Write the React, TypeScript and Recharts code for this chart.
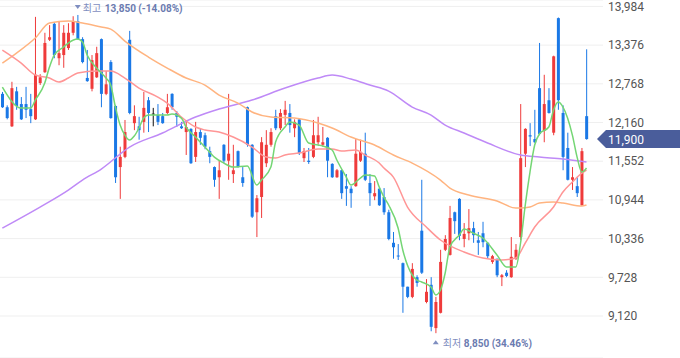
import React from 'react';
import {
  ComposedChart,
  Bar,
  Line,
  XAxis,
  YAxis,
  CartesianGrid,
  ReferenceLine,
  ReferenceDot,
} from 'recharts';

// ---- data ----
const opens = [
  12610, 12400, 12100, 12650, 12450, 12450, 12370, 12210, 12780, 12950,
  13460, 13710, 13170, 13220, 13330, 13570, 13750, 13470, 12860, 12690,
  12870, 13470, 12610, 13110, 12420, 11460, 11620, 13460, 12150, 12100,
  12170, 12510, 12300, 12280, 12260, 12310, 12610, 12310, 12100, 12010,
  12060, 11620, 12010, 11960, 11710, 11460, 11300, 11810, 11560, 11350,
  11710, 11300, 12400, 11810, 10750, 10990, 11520, 11810, 12260, 12070,
  12280, 12310, 12070, 12210, 11600, 11560, 11620, 11850, 11810, 11920,
  11510, 11300, 11410, 11160, 11120, 11160, 11560, 11670, 11210, 11000,
  11120, 10990, 10750, 10270, 10070, 9950, 9580, 9420, 9730, 10460,
  9340, 9610, 8930, 9170, 10160, 10080, 10750, 10960, 10330, 10420,
  10500, 10310, 10420, 10270, 9970, 10020, 9730, 9800, 9730, 10020,
  10360, 11670, 11960, 11900, 12700, 12030, 12510, 12000, 13800, 12310,
  11760, 11260, 11160, 10860, 12260,
];
const highs = [
  12640, 12430, 12800, 12720, 12560, 12720, 12610, 13820, 12920, 13570,
  13690, 13740, 13750, 13690, 13720, 13830, 13850, 13500, 13300, 13220,
  13350, 13480, 12970, 13140, 12430, 11780, 12200, 13600, 12430, 12250,
  12640, 12560, 12390, 12450, 12310, 12610, 12620, 12340, 12170, 12200,
  12070, 12170, 12070, 12000, 11780, 11470, 11560, 11820, 12610, 11810,
  11720, 11460, 12410, 11820, 11020, 11930, 12040, 12070, 12360, 12370,
  12500, 12450, 12210, 12230, 11760, 11760, 12200, 12250, 12090, 11930,
  11520, 11430, 11420, 11350, 11160, 11900, 11890, 12000, 11350, 11240,
  11130, 11130, 10790, 10440, 10250, 9960, 9580, 9950, 9760, 11260,
  9700, 9730, 9420, 10160, 10390, 10850, 10760, 10970, 10580, 10800,
  10600, 10440, 10600, 10280, 10080, 10020, 9780, 9840, 10360, 10250,
  12450, 12070, 12150, 12360, 13410, 12910, 12700, 13210, 13810, 12430,
  12000, 11460, 11300, 11760, 13310,
];
const lows = [
  12390, 12210, 12090, 12360, 12200, 12230, 12150, 12200, 12750, 12940,
  13440, 13170, 13060, 13020, 13300, 13530, 13460, 13090, 12800, 12650,
  12860, 12400, 12590, 12220, 11210, 10960, 11600, 12290, 12040, 11890,
  12000, 12010, 12100, 12120, 12140, 12290, 12360, 12090, 12060, 11650,
  11510, 11540, 11810, 11740, 11520, 11150, 10960, 11520, 11260, 11210,
  11450, 11150, 11780, 10660, 10360, 10660, 11460, 11780, 12040, 12040,
  12120, 12000, 11930, 11650, 11540, 11510, 11600, 11810, 11780, 11300,
  11290, 11290, 10960, 10850, 10820, 11150, 11540, 11240, 10850, 10940,
  10850, 10710, 10310, 10020, 10000, 9170, 9400, 9400, 9580, 9780,
  9320, 8880, 8850, 9160, 10140, 10070, 10410, 10310, 10200, 10310,
  10270, 10080, 10200, 10030, 9940, 9730, 9590, 9730, 9720, 10000,
  10310, 11460, 11790, 11840, 11960, 11850, 12300, 11960, 12360, 11410,
  11250, 11100, 10990, 10850, 11890,
];
const closes = [
  12400, 12230, 12700, 12420, 12210, 12360, 12260, 12910, 12870, 13410,
  13500, 13220, 13250, 13570, 13570, 13750, 13470, 13110, 12810, 13140,
  13250, 12610, 12760, 12230, 11300, 11620, 12010, 12310, 12260, 12040,
  12390, 12310, 12300, 12170, 12150, 12400, 12400, 12250, 12070, 12090,
  11520, 12010, 11920, 11780, 11620, 11260, 11410, 11560, 11670, 11410,
  11460, 11210, 11810, 10680, 10970, 11850, 11810, 12010, 12070, 12310,
  12360, 12120, 12170, 11680, 11710, 11540, 11960, 11960, 11850, 11560,
  11300, 11410, 11050, 11120, 11050, 11670, 11700, 11260, 11050, 11050,
  10860, 10750, 10330, 10200, 10060, 9580, 9420, 9860, 9640, 9800,
  9500, 8950, 9340, 9970, 10330, 10660, 10610, 10380, 10410, 10500,
  10390, 10270, 10280, 10060, 10060, 9760, 9760, 9750, 10050, 10160,
  11600, 12060, 11940, 11850, 11980, 12450, 12310, 13200, 12510, 11620,
  11260, 11300, 11050, 11710, 11900,
];

// moving averages: [candle index, value]
const ma5Points: [number, number][] = [
  [0, 12717], [4, 12387], [6, 12387], [7, 12513], [9, 12780], [10, 13031], [11, 13220],
  [13, 13346], [14, 13409], [16, 13471], [17, 13424], [18, 13220], [20, 13016], [22, 12859],
  [23, 12749], [24, 12403], [25, 12120], [26, 11963], [27, 11885], [28, 11947], [29, 12073],
  [30, 12230], [31, 12277], [33, 12277], [35, 12277], [36, 12293], [38, 12230], [39, 12089],
  [41, 11932], [43, 11775], [45, 11617], [47, 11523], [49, 11460], [52, 11476], [54, 11178],
  [55, 11256], [57, 11460], [58, 11853], [60, 12089], [61, 12167], [63, 12120], [65, 11838],
  [67, 11806], [68, 11790], [70, 11728], [71, 11571], [73, 11303], [74, 11178], [76, 11288],
  [77, 11335], [79, 11319], [80, 11146], [81, 10989], [82, 10864], [84, 10502], [85, 10157],
  [87, 9764], [88, 9685], [89, 9654], [91, 9575], [92, 9450], [93, 9528], [94, 9795],
  [95, 10204], [97, 10392], [98, 10486], [100, 10420], [102, 10345], [105, 10078], [107, 9890],
  [109, 9890], [110, 10267], [111, 10864], [112, 11382], [113, 11806], [114, 11979], [116, 12089],
  [117, 12356], [118, 12481], [119, 12403], [121, 11963], [122, 11617], [123, 11382], [124, 11445],
];
const ma20Points: [number, number][] = [
  [0, 13298], [4, 13094], [7, 12906], [10, 12859], [12, 12796], [14, 12859], [16, 12937],
  [20, 12969], [23, 12969], [26, 12859], [29, 12702], [33, 12560], [35, 12466], [38, 12246],
  [41, 12089], [43, 12042], [46, 12010], [49, 11932], [53, 11775], [56, 11617], [58, 11602],
  [60, 11649], [63, 11680], [67, 11743], [70, 11743], [72, 11712], [75, 11728], [77, 11649],
  [80, 11523], [81, 11445], [83, 11303], [86, 10832], [90, 10518], [93, 10314], [98, 10125],
  [102, 10031], [106, 10000], [109, 10031], [111, 10267], [113, 10518], [117, 10832],
  [119, 11068], [121, 11225], [123, 11366], [124, 11413],
];
const ma60Points: [number, number][] = [
  [0, 13094], [3, 13251], [7, 13487], [10, 13723], [14, 13754], [17, 13723], [21, 13660],
  [23, 13628], [26, 13440], [31, 13189], [35, 13016], [39, 12859], [43, 12749], [46, 12591],
  [50, 12466], [53, 12325], [57, 12246], [62, 12230], [67, 12152], [70, 12073], [74, 11932],
  [79, 11806], [83, 11649], [87, 11523], [93, 11256], [95, 11130], [99, 11021], [105, 10926],
  [109, 10816], [110, 10816], [112, 10832], [114, 10895], [117, 10910], [119, 10895],
  [123, 10848], [124, 10864],
];
const ma120Points: [number, number][] = [
  [0, 10502], [8, 10832], [14, 11099], [17, 11256], [21, 11429], [27, 11775], [34, 11995],
  [41, 12246], [46, 12372], [53, 12513], [60, 12702], [67, 12859], [70, 12906], [74, 12843],
  [78, 12749], [82, 12654], [87, 12403], [91, 12277], [94, 12120], [98, 11995], [103, 11838],
  [110, 11649], [114, 11617], [119, 11586], [124, 11539],
];

const yTicks = [9120, 9728, 10336, 10944, 11552, 12160, 12768, 13376, 13984];
const lastPrice = 11900;
const maxMark = { index: 16, value: 13850, label: '최고', text: '13,850 (-14.08%)' };
const minMark = { index: 92, value: 8850, label: '최저', text: '8,850 (34.46%)' };
const emptySlots = 3;

// ---- styles ----
const RED = '#ef3b3b';
const BLUE = '#1a78e6';
const MARK_LIGHT = '#7f8ec0';
const MARK_DARK = '#6b7bb0';

const candles = opens.map((o, i) => ({
  i,
  o,
  h: highs[i],
  l: lows[i],
  c: closes[i],
  range: [lows[i], highs[i]] as [number, number],
}));

const toSeries = (pts: [number, number][]) => pts.map(([i, v]) => ({ i, v }));
const ma5Data = toSeries(ma5Points);
const ma20Data = toSeries(ma20Points);
const ma60Data = toSeries(ma60Points);
const ma120Data = toSeries(ma120Points);

const Candle = (props: any) => {
  const { x, y, width, height, payload } = props;
  if (!payload || payload.o == null || x == null || y == null) return null;
  const { o, h, l, c } = payload;
  const top = Math.min(y, y + height);
  const hh = Math.abs(height);
  const ppv = hh / (h - l || 1);
  const yOf = (v: number) => top + (h - v) * ppv;
  const color = c > o ? RED : c < o ? BLUE : '#111';
  const cx = x + width / 2;
  const bt = yOf(Math.max(o, c));
  const bb = yOf(Math.min(o, c));
  return (
    <g>
      <line x1={cx} x2={cx} y1={top} y2={top + hh} stroke={color} strokeWidth={1} />
      <rect x={x} y={bt} width={width} height={Math.max(1, bb - bt)} fill={color} />
    </g>
  );
};

const KR_FONT = "'Noto Sans CJK KR', 'Noto Sans', sans-serif";
const NUM_FONT = 'Roboto, sans-serif';

const MaxShape = (p: any) => {
  const { cx, cy } = p;
  if (cx == null) return null;
  const ty = cy - 3;
  return (
    <g>
      <polygon points={`${cx - 3},${ty - 7} ${cx + 3},${ty - 7} ${cx},${ty - 3}`} fill={MARK_LIGHT} />
      <text x={cx + 5} y={ty} fontSize={10} fontFamily={KR_FONT} fill={MARK_LIGHT}>
        {maxMark.label}
      </text>
      <text x={cx + 27} y={ty} fontSize={10} fontFamily={NUM_FONT} fontWeight="bold" fill={MARK_DARK}>
        {maxMark.text}
      </text>
    </g>
  );
};

const MinShape = (p: any) => {
  const { cx, cy } = p;
  if (cx == null) return null;
  const ty = cy + 14;
  return (
    <g>
      <polygon points={`${cx - 3},${ty - 3} ${cx + 3},${ty - 3} ${cx},${ty - 7}`} fill={MARK_LIGHT} />
      <text x={cx + 7} y={ty} fontSize={10} fontFamily={KR_FONT} fill={MARK_LIGHT}>
        {minMark.label}
      </text>
      <text x={cx + 28} y={ty} fontSize={10} fontFamily={NUM_FONT} fontWeight="bold" fill={MARK_DARK}>
        {minMark.text}
      </text>
    </g>
  );
};

const PriceTag = (props: any) => {
  const vb = props.viewBox || {};
  const right = (vb.x || 0) + (vb.width || 0);
  const y = vb.y || 0;
  const end = right + 77;
  return (
    <g>
      <polygon
        points={`${right - 6},${y} ${right + 3},${y - 9} ${end},${y - 9} ${end},${y + 9} ${right + 3},${y + 9}`}
        fill="#4a5d9b"
      />
      <text x={right + 5} y={y + 4.5} fill="#fff" fontSize={12} fontFamily={NUM_FONT}>
        {lastPrice.toLocaleString('en-US')}
      </text>
    </g>
  );
};

const lineProps = {
  type: 'monotone' as const,
  dataKey: 'v',
  strokeWidth: 1.5,
  dot: false,
  activeDot: false,
  isAnimationActive: false,
};

export default function App() {
  return (
    <div style={{ position: 'absolute', left: 0, top: 0, width: 680, height: 358, background: '#fff' }}>
      <ComposedChart
        width={680}
        height={358}
        data={candles}
        margin={{ top: 0, right: 0, bottom: 0, left: 0 }}
      >
        <CartesianGrid horizontal vertical={false} stroke="#efefef" />
        <XAxis
          dataKey="i"
          type="number"
          domain={[-0.5, candles.length + emptySlots - 0.5]}
          allowDataOverflow
          hide
        />
        <YAxis
          orientation="right"
          domain={[8460, 14085]}
          ticks={yTicks}
          interval={0}
          width={77}
          axisLine={false}
          tickLine={false}
          tickSize={0}
          tickMargin={5}
          allowDataOverflow
          tick={{ fill: '#555', fontSize: 12, fontFamily: NUM_FONT }}
          tickFormatter={(v: number) => v.toLocaleString('en-US')}
        />
        <Bar dataKey="range" barSize={3} shape={<Candle />} isAnimationActive={false} />
        <Line data={ma120Data} stroke="#bf8af7" {...lineProps} />
        <Line data={ma60Data} stroke="#ffb480" {...lineProps} />
        <Line data={ma20Data} stroke="#ff9696" {...lineProps} />
        <Line data={ma5Data} stroke="#74d674" {...lineProps} />
        <ReferenceDot x={maxMark.index} y={maxMark.value} r={0} shape={<MaxShape />} />
        <ReferenceDot x={minMark.index} y={minMark.value} r={0} shape={<MinShape />} />
        <ReferenceLine y={lastPrice} stroke="transparent" label={<PriceTag />} />
      </ComposedChart>
    </div>
  );
}
